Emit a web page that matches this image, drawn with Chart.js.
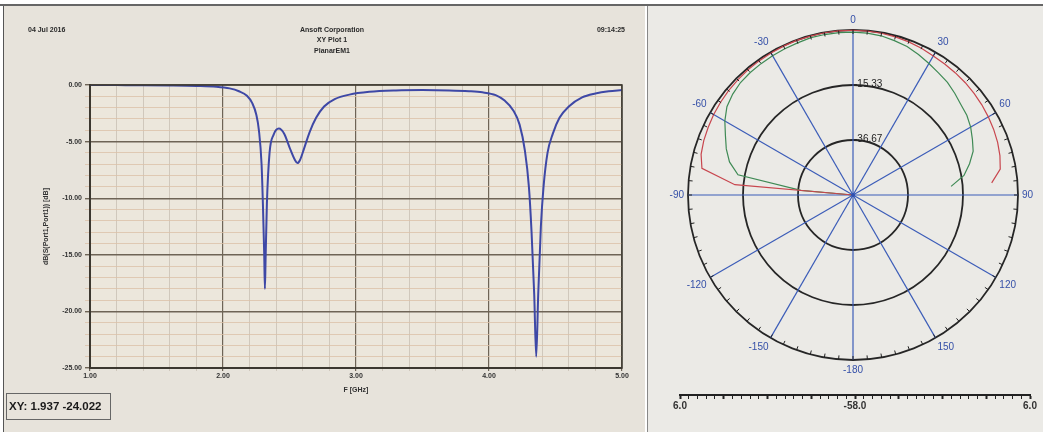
<!DOCTYPE html>
<html>
<head>
<meta charset="utf-8">
<script src="https://cdn.jsdelivr.net/npm/chart.js@4/dist/chart.umd.min.js"></script>
<style>
  html, body { margin: 0; padding: 0; background: #fff; width: 1043px; height: 432px; overflow: hidden; }
  #topline { position: absolute; left: 0; top: 4px; width: 1043px; height: 2px; background: #666; }
  #left { position: absolute; left: 3px; top: 6px; width: 641px; height: 426px; background: #e7e3db; border-left: 1px solid #555; }
  #right { position: absolute; left: 647px; top: 6px; width: 396px; height: 426px; background: #ebeae6; border-left: 1px solid #888; }
  .box { position: absolute; }
</style>
</head>
<body>
<div id="topline"></div>
<div id="left"><div class="box" style="left:1px;top:0;width:640px;height:426px"><canvas id="xy"></canvas></div></div>
<div id="right">
  <div class="box" style="left:12px;top:0;width:384px;height:378px"><canvas id="polar"></canvas></div>
  <div class="box" style="left:22px;top:360px;width:372px;height:44px"><canvas id="bar"></canvas></div>
</div>
<script>
// S11 sweep
const freqGHz = [1.00, 1.20, 1.40, 1.60, 1.80, 1.95, 2.05, 2.12, 2.18, 2.22, 2.25, 2.27, 2.29, 2.30, 2.31, 2.315,
  2.32, 2.33, 2.35, 2.38, 2.42, 2.46, 2.50, 2.54, 2.56, 2.58, 2.61, 2.65, 2.70, 2.76, 2.84, 2.95, 3.10, 3.30,
  3.50, 3.70, 3.85, 3.95, 4.05, 4.12, 4.18, 4.23, 4.27, 4.30, 4.32, 4.34, 4.355, 4.37, 4.39, 4.41, 4.44, 4.48,
  4.53, 4.60, 4.70, 4.80, 4.90, 5.00]
const s11dB = [0.00, -0.01, -0.02, -0.04, -0.08, -0.15, -0.30, -0.55, -0.95, -1.6, -2.6, -4.0, -7.0, -10.5, -15.0, -18.0,
  -15.5, -10.5, -6.0, -4.4, -3.85, -4.3, -5.5, -6.6, -6.9, -6.6, -5.6, -4.2, -2.9, -1.9, -1.25, -0.85, -0.6, -0.48,
  -0.45, -0.48, -0.55, -0.65, -0.9, -1.4, -2.2, -3.5, -5.8, -9.0, -13.0, -18.5, -24.0, -18.5, -12.5, -9.0, -6.0, -4.3,
  -2.9, -1.9, -1.1, -0.75, -0.55, -0.45]

const headerLeft = '04 Jul 2016'
const headerRight = '09:14:25'
const headerCenter = ['Ansoft Corporation', 'XY Plot 1', 'PlanarEM1']
const readout = 'XY: 1.937 -24.022'

// polar pattern (dB), theta in degrees
const polarAngles = [-90, -85, -80, -75, -70, -65, -60, -55, -50, -45, -40, -35, -30, -25, -20, -15, -10, -5,
  0, 5, 10, 15, 20, 25, 30, 35, 40, 45, 50, 55, 60, 65, 70, 75, 80, 85]
const redGain = [-58, -12, 1.5, 3.0, 3.6, 4.0, 4.4, 4.7, 5.0, 5.2, 5.4, 5.5, 5.6, 5.7, 5.8, 5.8, 5.9, 5.9,
  5.9, 5.8, 5.7, 5.5, 5.2, 4.8, 4.3, 4.0, 3.8, 3.6, 3.3, 3.0, 2.6, 2.2, 1.7, 1.0, 0.0, -4.0]
const greenGain = [-58, -37.7, -12.7, -8.4, -5.7, -3.4, -0.6, 1.7, 2.9, 3.7, 4.0, 4.2, 4.4, 4.6, 4.8, 5.2, 5.2, 5.2,
  5.2, 5.0, 4.7, 4.0, 3.3, 2.1, 0.9, -0.2, -1.0, -2.2, -3.4, -4.1, -5.3, -6.9, -8.4, -11.2, -14.3, -19.8]
const ringValues = [-36.67, -15.33]
const ringLabels = ['-36.67', '-15.33']
const barLabels = ['6.0', '-58.0', '6.0']

const narrow = "'Liberation Sans Narrow', 'Liberation Sans', Arial, sans-serif"
const isWhole = v => Math.abs(v - Math.round(v)) < 1e-6

// ---------- XY plot ----------
const xyDecor = {
  id: 'xyDecor',
  beforeDraw (chart) {
    const { ctx, chartArea: a } = chart
    ctx.save()
    ctx.fillStyle = '#ece7dc'
    ctx.fillRect(a.left, a.top, a.right - a.left, a.bottom - a.top)
    ctx.restore()
  },
  afterDraw (chart) {
    const { ctx, chartArea: a } = chart
    ctx.save()
    ctx.strokeStyle = '#3d3830'
    ctx.lineWidth = 1.5
    ctx.strokeRect(a.left, a.top, a.right - a.left, a.bottom - a.top)
    ctx.fillStyle = '#2a2a2a'
    ctx.font = 'bold 7px ' + narrow
    ctx.textBaseline = 'middle'
    ctx.textAlign = 'left'
    ctx.fillText(headerLeft, 23, 24)
    ctx.textAlign = 'right'
    ctx.fillText(headerRight, 620, 24)
    ctx.textAlign = 'center'
    headerCenter.forEach((t, i) => ctx.fillText(t, 327, 24 + i * 10.5))
    // readout box
    ctx.strokeStyle = '#666'
    ctx.lineWidth = 1
    ctx.strokeRect(1.5, 387.5, 104, 26)
    ctx.fillStyle = '#1a1a1a'
    ctx.font = 'bold 11.5px ' + narrow
    ctx.textAlign = 'left'
    ctx.fillText(readout, 4, 401)
    ctx.restore()
  }
}

new Chart(document.getElementById('xy'), {
  type: 'scatter',
  data: {
    datasets: [{
      data: freqGHz.map((f, i) => ({ x: f, y: s11dB[i] })),
      showLine: true,
      borderColor: '#3e48a6',
      borderWidth: 2,
      pointRadius: 0,
      cubicInterpolationMode: 'monotone'
    }]
  },
  options: {
    responsive: true,
    maintainAspectRatio: false,
    animation: false,
    layout: { padding: { left: 25, top: 79, right: 23, bottom: 34 } },
    plugins: { legend: { display: false }, tooltip: { enabled: false } },
    scales: {
      x: {
        type: 'linear',
        min: 1,
        max: 5,
        afterFit: s => { s.height = 30 },
        ticks: {
          stepSize: 0.2,
          autoSkip: false,
          maxRotation: 0,
          padding: 1,
          color: '#333',
          font: { family: narrow, size: 7, weight: 'bold' },
          callback: v => isWhole(v) ? v.toFixed(2) : ''
        },
        grid: {
          tickLength: 3,
          color: c => isWhole(c.tick.value) ? '#6e6456' : '#c9c0b4',
          lineWidth: c => isWhole(c.tick.value) ? 1.2 : 0.8
        },
        border: { color: '#3d3830', width: 2 },
        title: { display: true, text: 'F [GHz]', color: '#333', padding: { top: 2 }, font: { family: narrow, size: 7, weight: 'bold' } }
      },
      y: {
        min: -25,
        max: 0,
        afterFit: s => { s.width = 60 },
        ticks: {
          stepSize: 1,
          autoSkip: false,
          padding: 3,
          color: '#333',
          font: { family: narrow, size: 7, weight: 'bold' },
          callback: v => v % 5 === 0 ? v.toFixed(2) : ''
        },
        grid: {
          tickLength: 5,
          color: c => c.tick.value % 5 === 0 ? '#6e6456' : '#dcc2a8',
          lineWidth: c => c.tick.value % 5 === 0 ? 1.4 : 0.8
        },
        border: { color: '#3d3830', width: 2 },
        title: { display: true, text: 'dB(S(Port1,Port1)) [dB]', color: '#333', padding: { top: 12, bottom: 4 }, font: { family: narrow, size: 7, weight: 'bold' } }
      }
    }
  },
  plugins: [xyDecor]
})

// ---------- polar plot ----------
const spokeLabels = []
for (let a = 0; a < 360; a += 5) spokeLabels.push(a < 180 ? a : a - 360)

function toSpokes (gain) {
  const out = spokeLabels.map(() => null)
  polarAngles.forEach((a, i) => { out[((a % 360) + 360) % 360 / 5] = gain[i] })
  return out
}

const polarDecor = {
  id: 'polarDecor',
  afterDraw (chart) {
    const { ctx } = chart
    const s = chart.scales.r
    ctx.save()
    // tick marks on the outer ring
    ctx.strokeStyle = '#222'
    ctx.lineWidth = 1
    spokeLabels.forEach((l, i) => {
      const p1 = s.getPointPosition(i, s.drawingArea)
      const p2 = s.getPointPosition(i, s.drawingArea - 4)
      ctx.beginPath()
      ctx.moveTo(p1.x, p1.y)
      ctx.lineTo(p2.x, p2.y)
      ctx.stroke()
    })
    // ring labels
    ctx.fillStyle = '#222'
    ctx.font = '10px ' + narrow
    ctx.textAlign = 'left'
    ctx.textBaseline = 'middle'
    ringValues.forEach((v, i) => {
      const d = s.getDistanceFromCenterForValue(v)
      ctx.fillText(ringLabels[i], s.xCenter + 1, s.yCenter - d - 1)
    })
    ctx.fillStyle = '#2f4fb0'
    ctx.beginPath()
    ctx.arc(s.xCenter, s.yCenter, 2, 0, Math.PI * 2)
    ctx.fill()
    ctx.restore()
  }
}

new Chart(document.getElementById('polar'), {
  type: 'radar',
  data: {
    labels: spokeLabels,
    datasets: [
      { data: toSpokes(redGain), borderColor: '#c8464e', borderWidth: 1.2, pointRadius: 0, fill: false },
      { data: toSpokes(greenGain), borderColor: '#3f8a55', borderWidth: 1.2, pointRadius: 0, fill: false }
    ]
  },
  options: {
    responsive: true,
    maintainAspectRatio: false,
    animation: false,
    layout: { padding: 8 },
    plugins: { legend: { display: false }, tooltip: { enabled: false } },
    scales: {
      r: {
        min: -58,
        max: 6,
        startAngle: 0,
        ticks: { count: 4, display: false },
        grid: { circular: true, color: '#262626', lineWidth: 1.8 },
        angleLines: {
          color: c => c.index % 6 === 0 ? '#3b5cb8' : 'rgba(0,0,0,0)',
          lineWidth: 1.2
        },
        pointLabels: {
          padding: 4,
          color: '#3550a8',
          font: { family: narrow, size: 10 },
          callback: (l, i) => i % 6 === 0 ? String(l) : ''
        }
      }
    }
  },
  plugins: [polarDecor]
})

// ---------- radial scale bar ----------
new Chart(document.getElementById('bar'), {
  type: 'scatter',
  data: { datasets: [] },
  options: {
    responsive: true,
    maintainAspectRatio: false,
    animation: false,
    layout: { padding: { left: 10, right: 12, top: 14, bottom: 0 } },
    plugins: { legend: { display: false }, tooltip: { enabled: false } },
    scales: {
      y: { display: false },
      x: {
        min: -1,
        max: 1,
        ticks: {
          stepSize: 0.05,
          autoSkip: false,
          maxRotation: 0,
          padding: 1,
          color: '#333',
          font: { family: narrow, size: 10, weight: 'bold' },
          callback: v => v === -1 ? barLabels[0] : v === 0 ? barLabels[1] : v === 1 ? barLabels[2] : ''
        },
        grid: {
          drawOnChartArea: false,
          tickLength: 4,
          tickColor: '#222',
          tickWidth: c => Math.abs(c.tick.value * 4 - Math.round(c.tick.value * 4)) < 1e-6 ? 2 : 1
        },
        border: { color: '#222', width: 2 }
      }
    }
  }
})
</script>
</body>
</html>
